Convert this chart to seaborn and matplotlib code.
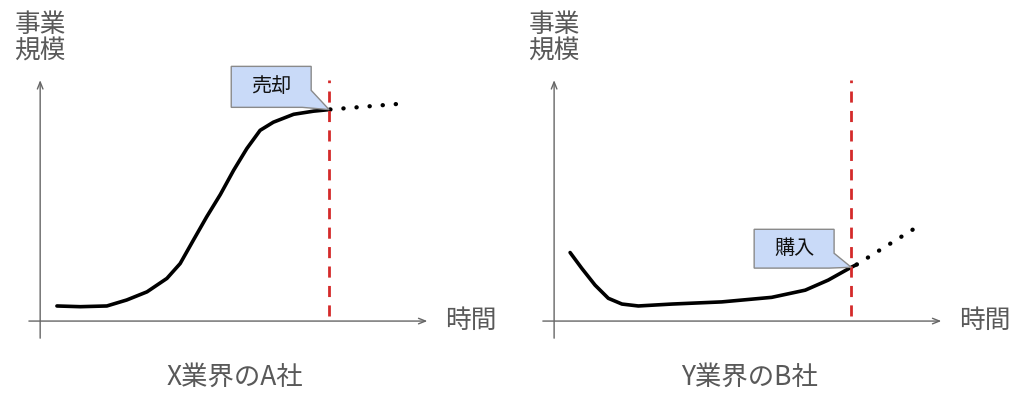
import numpy as np
import pandas as pd
import matplotlib.pyplot as plt
import seaborn as sns
from matplotlib.patches import Polygon

sns.set_style("white")
plt.rcParams['font.family'] = ['Noto Sans CJK JP', 'DejaVu Sans']

# --- data (arbitrary units: time vs business size) ---
a_time = [0.43, 1.03, 1.71, 2.22, 2.74, 3.25, 3.59, 3.93, 4.27, 4.62, 4.96,
          5.30, 5.64, 5.98, 6.50, 7.01, 7.44]
a_size = [0.63, 0.60, 0.63, 0.88, 1.22, 1.78, 2.40, 3.38, 4.35, 5.28, 6.29,
          7.20, 7.96, 8.30, 8.63, 8.76, 8.83]
a_future_time = [7.44, 9.31]
a_future_size = [8.83, 9.08]
a_event_time = 7.41
a_event_label = '売却'

b_time = [0.41, 0.71, 1.05, 1.39, 1.74, 2.16, 3.02, 4.30, 5.58, 6.44, 7.03,
          7.59, 7.76]
b_size = [2.86, 2.20, 1.50, 0.95, 0.71, 0.63, 0.71, 0.80, 0.99, 1.29, 1.71,
          2.22, 2.36]
b_future_time = [7.76, 9.20]
b_future_size = [2.36, 3.82]
b_event_time = 7.62
b_event_label = '購入'

titles = ['X業界のA社', 'Y業界のB社']
ylabel = '事業\n規模'
xlabel = '時間'

fig = plt.figure(figsize=(10.24, 4.09), dpi=100)
axes = [fig.add_axes([0, 0, 0.5, 1]), fig.add_axes([0.5, 0, 0.5, 1])]

panels = [
    (a_time, a_size, a_future_time, a_future_size, a_event_time, a_event_label,
     (4.90, 6.95, 8.92, 10.63), (6.72, 9.63)),
    (b_time, b_size, b_future_time, b_future_size, b_event_time, b_event_label,
     (5.13, 7.18, 2.21, 3.83), (7.05, 2.83)),
]

gray = '#666666'
txt_gray = '#595959'
for ax, (t, s, ft, fs, ev, lab, box, tail), title, xl in zip(
        axes, panels, titles, [(-1.03, 12.1), (-1.08, 12.05)]):
    ax.set_xlim(*xl)
    ax.set_ylim(-3.67, 13.4)
    ax.axis('off')

    # axis arrows
    ax.annotate('', xy=(10.0, 0), xytext=(-0.36, 0),
                arrowprops=dict(arrowstyle='->,head_length=0.5,head_width=0.2', color=gray, lw=1))
    ax.annotate('', xy=(0, 10.17), xytext=(0, -0.83),
                arrowprops=dict(arrowstyle='->,head_length=0.5,head_width=0.2', color=gray, lw=1))

    df = pd.DataFrame({'time': t, 'size': s})
    sns.lineplot(data=df, x='time', y='size', ax=ax, color='black', lw=2.6,
                 sort=False, solid_capstyle='round', solid_joinstyle='round')
    ax.plot(ft, fs, color='black', lw=3.1, linestyle=(0, (0.05, 3.0)),
            dash_capstyle='round')
    ax.vlines(ev, 0.21, 10.08, color='#d42a2a', lw=2, linestyles=(0, (4, 3)))

    # callout box with pointer
    x0, x1, y0, y1 = box
    anchor = (ev, np.interp(ev, list(t) + ft[1:], list(s) + fs[1:]))
    pts = [(x0, y0), (tail[0], y0), anchor, (x1, tail[1]), (x1, y1), (x0, y1)]
    ax.add_patch(Polygon(pts, closed=True, fc='#c9daf8', ec='#8a8a8a', lw=1, zorder=5))
    ax.text((x0 + x1) / 2, (y0 + y1) / 2, lab, ha='center', va='center',
            fontsize=14.5, color='#111111', zorder=6)

    ax.text(0, 11.8, ylabel, ha='center', va='center', fontsize=18.5,
            color=txt_gray, linespacing=1.0)
    ax.text(11.04, 0, xlabel, ha='center', va='center', fontsize=18.5, color=txt_gray)
    ax.text(5.0, -2.35, title, ha='center', va='center', fontsize=19, color=txt_gray)

fig.savefig('out.png', dpi=100)
